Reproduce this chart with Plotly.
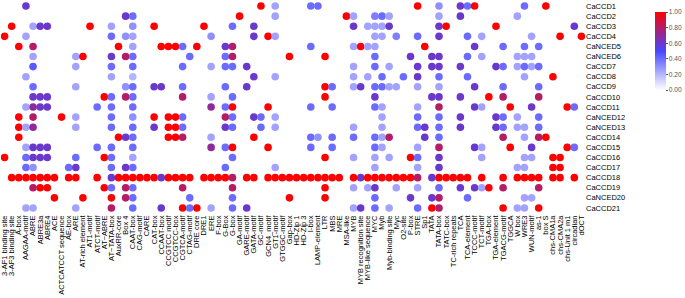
import plotly.graph_objects as go

elements = ["3-AF1 binding site", "3-AF3 binding site", "A-box", "AAGAA-motif", "ABRE", "ABRE3a", "ABRE4",
            "ACE", "ACTCATCCT sequence", "AE-box", "ARE", "AT-rich element", "AT1-motif", "ATCT-motif",
            "AT~ABRE", "AT~TATA-box", "AuxRR-core", "Box 4", "CAAT-box", "CAG-motif", "CARE", "CAT-box",
            "CCAAT-box", "CCGTCC motif", "CCGTCC-box", "CGTCA-motif", "CTAG-motif", "DRE core", "DRE1",
            "ERE", "F-box", "G-Box", "G-box", "GA-motif", "GARE-motif", "GATA-motif", "GC-motif",
            "GCN4_motif", "GT1-motif", "GTGGC-motif", "Gap-box", "HD-Zip 1", "HD-Zip 3", "I-box",
            "LAMP-element", "LTR", "MBS", "MRE", "MSA-like", "MYB", "MYB recognition site",
            "MYB-like sequence", "MYC", "Myb", "Myb-binding site", "Myc", "O2-site", "P-box", "STRE",
            "Sp1", "TATA", "TATA-box", "TATC-box", "TC-rich repeats", "TCA", "TCA-element", "TCCC-motif",
            "TCT-motif", "TGA-box", "TGA-element", "TGACG-motif", "TGGCA", "W box", "WRE3", "WUN-motif",
            "as-1", "box S", "chs-CMA1a", "chs-CMA2a", "chs-Unit 1 m1", "circadian", "dOCT"]

genes = ["CaCCD1", "CaCCD2", "CaCCD3", "CaCCD4", "CaNCED5", "CaNCED6", "CaCCD7", "CaCCD8", "CaCCD9",
         "CaCCD10", "CaCCD11", "CaNCED12", "CaNCED13", "CaCCD14", "CaCCD15", "CaCCD16", "CaCCD17",
         "CaCCD18", "CaCCD19", "CaNCED20", "CaCCD21"]

CaCCD1 = {"AAGAA-motif": 0.6, "GC-motif": 1, "GT1-motif": 0.25, "I-box": 0.4, "LAMP-element": 0.4, "STRE": 1,
          "TATA-box": 0.3, "TCA": 0.6, "TCA-element": 0.4, "TCCC-motif": 1, "WRE3": 0.4, "box S": 1}
CaCCD2 = {"Box 4": 0.6, "CAAT-box": 0.4, "GA-motif": 1, "GT1-motif": 0.25, "MSA-like": 1, "MYB": 0.25,
          "MYC": 0.35, "Myb": 0.4, "Myb-binding site": 0.25, "TATA-box": 0.25, "TCA": 0.6, "W box": 0.25}
CaCCD3 = {"3-AF3 binding site": 1, "ABRE": 0.25, "ABRE3a": 0.6, "ABRE4": 0.6, "AT1-motif": 1,
          "AT~TATA-box": 0.25, "CAAT-box": 0.3, "CAT-box": 1, "DRE1": 1, "G-box": 0.4, "GATA-motif": 0.6,
          "MYB": 0.6, "MYB-like sequence": 0.25, "MYC": 0.25, "Myb": 0.25, "Myb-binding site": 0.6,
          "TATA-box": 0.6, "TATC-box": 1, "TGA-element": 1, "circadian": 0.6}
CaCCD4 = {"3-AF1 binding site": 1, "AAGAA-motif": 0.25, "AT~TATA-box": 0.4, "Box 4": 0.3, "CAAT-box": 0.25,
          "ERE": 0.3, "GATA-motif": 0.6, "GCN4_motif": 1, "GT1-motif": 0.25, "MYC": 0.25, "Myb": 0.25,
          "Myc": 0.35, "STRE": 0.4, "TATA-box": 0.6, "TCA-element": 0.4, "TCT-motif": 0.25,
          "WUN-motif": 0.25, "chs-CMA2a": 1, "dOCT": 1}
CaNCED5 = {"A-box": 1, "ABRE": 0.8, "AuxRR-core": 1, "CAAT-box": 0.25, "CCAAT-box": 1, "CCGTCC motif": 1,
           "CCGTCC-box": 1, "CGTCA-motif": 0.4, "DRE core": 1, "G-Box": 0.6, "G-box": 0.8, "I-box": 0.4,
           "MYB": 0.25, "MYB recognition site": 1, "MYB-like sequence": 0.25, "MYC": 0.25, "Sp1": 1,
           "TCCC-motif": 0.6, "TGACG-motif": 0.4, "WRE3": 0.4, "as-1": 0.4}
CaNCED6 = {"ABRE": 0.25, "ARE": 0.25, "AT-rich element": 1, "AT~TATA-box": 0.6, "Box 4": 0.8,
           "CAAT-box": 0.4, "CTAG-motif": 0.4, "G-Box": 0.4, "G-box": 0.8, "Gap-box": 1, "LTR": 1,
           "MYC": 0.4, "P-box": 0.6, "TATA": 0.6, "TATA-box": 0.6, "TCA-element": 0.4, "TCT-motif": 0.25,
           "W box": 0.25, "WRE3": 0.25, "WUN-motif": 0.25}
CaCCD7 = {"ABRE": 0.45, "ARE": 0.25, "AT~TATA-box": 0.4, "CAAT-box": 0.4, "CGTCA-motif": 0.4, "ERE": 0.25,
          "G-Box": 0.4, "G-box": 0.4, "GARE-motif": 0.6, "MYB": 0.25, "MYC": 0.4, "Myb-binding site": 0.25,
          "STRE": 0.6, "TATA": 0.6, "TATA-box": 0.6, "TCA": 0.6, "TGA-element": 0.6, "TGACG-motif": 0.4,
          "W box": 0.25, "WRE3": 0.4, "WUN-motif": 0.25, "as-1": 0.4}
CaCCD8 = {"AAGAA-motif": 0.25, "AT~TATA-box": 0.25, "CAAT-box": 0.2, "GATA-motif": 0.6, "GT1-motif": 0.25,
          "MYB": 0.25, "MYB-like sequence": 0.25, "Myb": 0.4, "O2-site": 0.4, "STRE": 0.6, "TATA-box": 0.4,
          "TCA-element": 0.4, "WRE3": 0.25, "chs-CMA1a": 1}
CaCCD9 = {"ABRE": 0.4, "ARE": 0.25, "Box 4": 0.3, "CAAT-box": 0.4, "CAT-box": 0.6, "CCAAT-box": 0.6,
          "CGTCA-motif": 0.4, "G-Box": 0.4, "GARE-motif": 0.6, "LTR": 1, "MBS": 0.4, "MYB": 0.25,
          "MYB recognition site": 0.6, "MYC": 0.4, "Myb": 0.4, "Myb-binding site": 0.25, "Myc": 0.25,
          "STRE": 0.25, "TATA-box": 0.25, "TCCC-motif": 0.6, "TGACG-motif": 0.4, "as-1": 0.4}
CaCCD10 = {"ABRE": 0.6, "ABRE3a": 0.6, "ABRE4": 0.6, "AT~ABRE": 1, "AT~TATA-box": 0.4, "Box 4": 0.8,
           "CAAT-box": 0.4, "CGTCA-motif": 0.8, "ERE": 0.25, "G-box": 0.4, "LTR": 1, "MYC": 0.6,
           "TATA": 0.6, "TATA-box": 0.6, "TCA": 0.6, "TGA-box": 1, "TGACG-motif": 0.8, "as-1": 0.8}
CaCCD11 = {"AAGAA-motif": 0.25, "ABRE": 0.7, "ABRE3a": 0.6, "ABRE4": 0.6, "ATCT-motif": 0.4,
           "AT~TATA-box": 0.4, "CAAT-box": 0.4, "ERE": 0.7, "G-Box": 0.4, "G-box": 1, "GCN4_motif": 1,
           "I-box": 0.4, "MBS": 0.4, "MYC": 0.4, "Myb": 0.25, "STRE": 0.25, "TATA-box": 0.8,
           "TCCC-motif": 0.6, "TCT-motif": 0.25, "TGGCA": 1, "WUN-motif": 0.6, "chs-Unit 1 m1": 1,
           "circadian": 0.4}
CaNCED12 = {"A-box": 1, "ABRE": 0.8, "ACTCATCCT sequence": 1, "ARE": 0.25, "AT~TATA-box": 0.4,
            "CAAT-box": 0.3, "CAT-box": 1, "CCGTCC motif": 1, "CCGTCC-box": 1, "CGTCA-motif": 0.4,
            "G-Box": 0.8, "G-box": 0.4, "GATA-motif": 0.6, "GC-motif": 0.4, "GT1-motif": 0.25, "Myb": 0.25,
            "STRE": 0.4, "TATA-box": 0.4, "TCA": 0.6, "TGA-element": 0.6, "TGACG-motif": 0.4,
            "W box": 0.25, "as-1": 0.4}
CaNCED13 = {"A-box": 1, "AAGAA-motif": 0.25, "ABRE": 0.7, "ARE": 0.25, "AT~TATA-box": 0.4, "CAAT-box": 0.4,
            "CAT-box": 0.6, "CCGTCC motif": 1, "CCGTCC-box": 1, "CGTCA-motif": 0.4, "G-Box": 0.6,
            "G-box": 0.4, "GC-motif": 0.4, "GT1-motif": 0.25, "MYB": 0.25, "Myb": 0.25, "STRE": 0.4,
            "Sp1": 0.6, "TATA-box": 0.4, "TCA": 0.6, "TGA-element": 0.6, "TGACG-motif": 0.4,
            "W box": 0.25, "WRE3": 0.25, "as-1": 0.4}
CaCCD14 = {"A-box": 1, "AuxRR-core": 1, "Box 4": 0.6, "CAAT-box": 0.4, "CCGTCC motif": 1, "CCGTCC-box": 1,
           "CGTCA-motif": 0.8, "ERE": 0.25, "GATA-motif": 1, "I-box": 0.4, "LAMP-element": 0.3, "MBS": 0.4,
           "MYB": 0.4, "MYC": 0.4, "Myb": 0.25, "Myb-binding site": 0.8, "Sp1": 0.6, "TATA-box": 0.4,
           "TGACG-motif": 0.8, "WRE3": 0.25, "as-1": 0.8, "box S": 1}
CaCCD15 = {"AAGAA-motif": 0.25, "ABRE": 0.6, "ABRE3a": 0.6, "ABRE4": 0.6, "ATCT-motif": 0.4,
           "AT~TATA-box": 0.4, "CAAT-box": 0.4, "ERE": 0.7, "G-Box": 0.4, "G-box": 1, "GCN4_motif": 1,
           "I-box": 0.4, "MBS": 0.4, "MYC": 0.4, "Myb": 0.25, "STRE": 0.25, "TATA-box": 0.8,
           "TCCC-motif": 0.6, "TCT-motif": 0.25, "TGGCA": 1, "WUN-motif": 0.6, "chs-Unit 1 m1": 1,
           "circadian": 0.4}
CaCCD16 = {"3-AF1 binding site": 1, "AAGAA-motif": 0.4, "ABRE": 0.6, "ABRE3a": 0.6, "ABRE4": 0.6, "ARE": 0.4,
           "AT~ABRE": 1, "AT~TATA-box": 0.4, "CAAT-box": 0.25, "G-box": 0.4, "LTR": 1, "MYB": 0.25,
           "MYC": 0.25, "Myb-binding site": 0.25, "P-box": 1, "STRE": 0.4, "TATA-box": 0.6,
           "TCT-motif": 0.25, "WRE3": 0.25, "WUN-motif": 0.25, "chs-CMA1a": 1, "chs-CMA2a": 1}
CaCCD17 = {"AAGAA-motif": 0.4, "ABRE": 0.3, "AE-box": 0.4, "ARE": 0.6, "AT~TATA-box": 0.4, "Box 4": 0.6,
           "CAAT-box": 0.4, "G-Box": 0.4, "GT1-motif": 0.25, "MYC": 0.25, "STRE": 0.25, "TATA-box": 0.6,
           "W box": 0.25, "WRE3": 0.25, "chs-CMA1a": 1, "chs-CMA2a": 1}
CaCCD18 = {"3-AF3 binding site": 1, "A-box": 1, "AAGAA-motif": 1, "ABRE": 1, "ABRE3a": 1, "ABRE4": 1,
           "ACE": 1, "AE-box": 1, "ARE": 1, "ATCT-motif": 1, "AT~TATA-box": 0.6, "AuxRR-core": 1,
           "Box 4": 1, "CAAT-box": 1, "CAG-motif": 1, "CARE": 1, "CAT-box": 1, "CCAAT-box": 0.6,
           "CCGTCC motif": 1, "CCGTCC-box": 1, "CGTCA-motif": 1, "CTAG-motif": 1, "DRE1": 1, "ERE": 1,
           "F-box": 1, "G-Box": 1, "G-box": 0.8, "GARE-motif": 1, "GATA-motif": 1, "GCN4_motif": 1,
           "GT1-motif": 1, "GTGGC-motif": 1, "Gap-box": 1, "HD-Zip 1": 1, "HD-Zip 3": 1, "I-box": 1,
           "LAMP-element": 1, "LTR": 1, "MBS": 1, "MRE": 1, "MYB": 1, "MYB recognition site": 0.6,
           "MYB-like sequence": 1, "MYC": 1, "Myb": 1, "Myb-binding site": 1, "Myc": 1, "O2-site": 1,
           "P-box": 1, "STRE": 0.8, "TATA": 0.6, "TATA-box": 1, "TATC-box": 1, "TC-rich repeats": 1,
           "TCA": 1, "TCA-element": 1, "TCT-motif": 1, "TGACG-motif": 1, "W box": 1, "WRE3": 1,
           "WUN-motif": 1, "as-1": 1, "chs-CMA1a": 1, "chs-CMA2a": 1, "circadian": 1}
CaCCD19 = {"ABRE": 0.8, "ABRE3a": 1, "ABRE4": 1, "AT~ABRE": 1, "AT~TATA-box": 0.4, "Box 4": 0.8,
           "CAAT-box": 0.4, "CGTCA-motif": 0.8, "G-box": 0.8, "LTR": 1, "MYB": 0.25,
           "MYB-like sequence": 0.25, "MYC": 0.6, "Myc": 0.25, "STRE": 0.25, "TATA-box": 0.4, "TCA": 0.6,
           "TCCC-motif": 0.6, "TCT-motif": 0.25, "TGA-box": 1, "TGACG-motif": 0.8, "as-1": 0.8}
CaNCED20 = {"ACE": 1, "AT-rich element": 1, "AT~TATA-box": 1, "Box 4": 0.8, "CAAT-box": 0.4,
            "CTAG-motif": 0.4, "G-box": 0.4, "Gap-box": 1, "LTR": 1, "MYC": 0.4, "P-box": 0.6, "TATA": 0.6,
            "TATA-box": 0.8, "TCA-element": 0.4, "WRE3": 0.25, "WUN-motif": 0.25}
CaCCD21 = {"AAGAA-motif": 0.25, "ABRE": 0.25, "ARE": 0.25, "AT~TATA-box": 0.8, "CAAT-box": 0.4,
           "CCAAT-box": 0.6, "CGTCA-motif": 1, "CTAG-motif": 0.4, "DRE core": 1, "ERE": 0.25, "G-box": 0.4,
           "GARE-motif": 0.6, "MYB": 0.25, "MYB recognition site": 0.6, "MYC": 0.4, "Myb-binding site": 0.25,
           "STRE": 0.4, "TATA": 1, "TATA-box": 0.8, "TGACG-motif": 1, "W box": 0.25, "WRE3": 0.25,
           "as-1": 1}

gene_values = [CaCCD1, CaCCD2, CaCCD3, CaCCD4, CaNCED5, CaNCED6, CaCCD7, CaCCD8, CaCCD9, CaCCD10,
               CaCCD11, CaNCED12, CaNCED13, CaCCD14, CaCCD15, CaCCD16, CaCCD17, CaCCD18, CaCCD19,
               CaNCED20, CaCCD21]

xs, ys, vs = [], [], []
for g, d in zip(genes, gene_values):
    for e in elements:
        if e in d:
            xs.append(e)
            ys.append(g)
            vs.append(d[e])

FONT = "Liberation Sans, Arial, sans-serif"

fig = go.Figure(go.Scatter(
    x=xs, y=ys, mode="markers",
    marker=dict(
        size=7.6, color=vs, cmin=0, cmax=1,
        colorscale=[[0, "#ffffff"], [0.5, "#4646ff"], [1, "#ff0000"]],
        line=dict(width=0),
        colorbar=dict(
            thickness=11, lenmode="pixels", len=78,
            x=1.1199, xanchor="left", xpad=0,
            y=0.764, yanchor="middle", ypad=0,
            outlinewidth=0, ticks="outside", ticklen=2, tickcolor="#555555",
            tickvals=[0, 0.2, 0.4, 0.6, 0.8, 1.0], tickformat=".2f",
            tickfont=dict(size=6.6, color="#555555", family=FONT),
        ),
    ),
    showlegend=False,
))

fig.update_layout(
    width=685, height=298,
    margin=dict(l=1, r=100, t=1, b=85, autoexpand=False),
    plot_bgcolor="white", paper_bgcolor="white",
    font=dict(family=FONT, color="black"),
)
fig.update_xaxes(
    type="category", categoryorder="array", categoryarray=elements,
    tickmode="array", tickvals=elements, ticktext=elements,
    range=[-0.5, len(elements) - 0.5],
    tickangle=-90, tickfont=dict(size=7.5, color="black"),
    showgrid=False, zeroline=False, showline=False, ticks="",
)
fig.update_yaxes(
    type="category", categoryorder="array", categoryarray=genes[::-1],
    tickmode="array", tickvals=genes, ticktext=genes,
    range=[-0.5, len(genes) - 0.5], side="right",
    tickfont=dict(size=7.5, color="black"),
    showgrid=False, zeroline=False, showline=False, ticks="",
)

fig.write_html("out.html", config={"displayModeBar": False},
               post_script="document.body.style.margin='0px';")
